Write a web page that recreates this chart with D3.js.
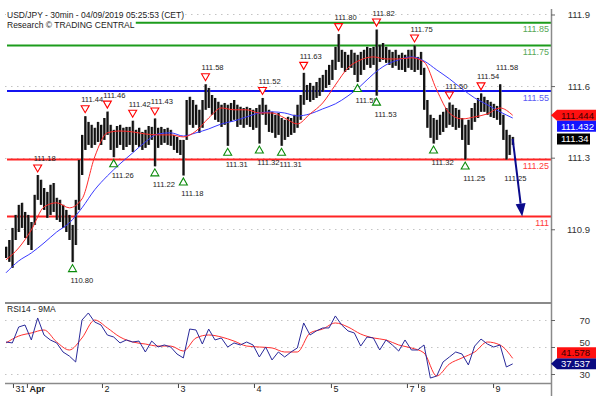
<!DOCTYPE html>
<html><head><meta charset="utf-8">
<script src="https://cdn.jsdelivr.net/npm/d3@7"></script>
<style>body{margin:0;background:#fff}svg{display:block}text{font-family:"Liberation Sans",Arial,sans-serif}</style>
</head><body><svg id="c" width="596" height="399"></svg>
<script>
// ---- data (one entry per 2 half-hour bars) ----
const priceHi = [110.867,110.897,110.950,111.007,111.051,111.060,111.020,111.007,110.976,111.095,
111.182,111.161,111.125,111.108,111.139,111.147,111.082,111.073,111.051,111.029,
111.007,110.963,111.073,111.248,111.358,111.440,111.415,111.402,111.389,111.415,
111.402,111.432,111.460,111.402,111.380,111.397,111.402,111.389,111.393,111.393,
111.420,111.380,111.389,111.371,111.380,111.397,111.393,111.430,111.389,111.393,
111.384,111.389,111.380,111.358,111.349,111.336,111.336,111.511,111.525,111.511,
111.490,111.468,111.511,111.580,111.564,111.533,111.520,111.503,111.490,111.498,
111.490,111.498,111.511,111.490,111.481,111.476,111.481,111.476,111.468,111.476,
111.490,111.520,111.490,111.468,111.459,111.446,111.454,111.432,111.424,111.437,
111.432,111.446,111.490,111.533,111.630,111.577,111.586,111.573,111.590,111.608,
111.621,111.643,111.665,111.687,111.744,111.800,111.731,111.722,111.709,111.731,
111.718,111.709,111.722,111.731,111.744,111.739,111.744,111.820,111.753,111.761,
111.744,111.731,111.722,111.731,111.709,111.718,111.709,111.731,111.731,111.750,
111.700,111.722,111.652,111.511,111.446,111.432,111.424,111.446,111.459,111.476,
111.500,111.490,111.476,111.468,111.432,111.402,111.424,111.476,111.498,111.520,
111.540,111.525,111.511,111.503,111.494,111.485,111.580,111.446,111.380,111.358,
111.349];
const priceLo = [110.818,110.801,110.775,110.897,110.932,110.950,110.906,110.875,110.853,110.963,
111.073,111.051,111.029,110.994,111.007,111.020,110.985,110.976,110.950,110.932,
110.897,110.800,110.875,111.029,111.182,111.292,111.314,111.301,111.314,111.327,
111.314,111.336,111.358,111.292,111.260,111.301,111.314,111.292,111.305,111.314,
111.283,111.314,111.305,111.292,111.301,111.314,111.336,111.220,111.301,111.314,
111.323,111.314,111.310,111.292,111.279,111.270,111.180,111.336,111.402,111.389,
111.402,111.367,111.389,111.468,111.476,111.446,111.424,111.415,111.393,111.402,
111.310,111.415,111.424,111.393,111.402,111.389,111.402,111.393,111.380,111.389,
111.320,111.446,111.402,111.371,111.367,111.345,111.358,111.310,111.336,111.349,
111.358,111.367,111.389,111.424,111.490,111.511,111.503,111.511,111.520,111.529,
111.547,111.564,111.577,111.599,111.643,111.678,111.652,111.634,111.643,111.652,
111.621,111.590,111.621,111.643,111.665,111.652,111.665,111.530,111.678,111.687,
111.674,111.665,111.652,111.661,111.643,111.643,111.634,111.652,111.643,111.634,
111.643,111.621,111.468,111.389,111.345,111.320,111.336,111.358,111.371,111.389,
111.402,111.393,111.380,111.389,111.336,111.250,111.314,111.380,111.415,111.432,
111.459,111.459,111.446,111.437,111.432,111.424,111.402,111.336,111.250,111.270,
111.314];
const maStep = 4;
const redMA = [110.810,110.862,110.941,111.042,111.060,111.038,111.077,111.261,111.367,111.375,
111.371,111.362,111.358,111.358,111.349,111.375,111.432,111.476,111.468,111.468,
111.454,111.454,111.432,111.406,111.450,111.498,111.577,111.652,111.687,111.700,
111.691,111.691,111.696,111.678,111.555,111.454,111.428,111.437,111.450,111.476,111.444];
const blueMA = [110.753,110.805,110.840,110.884,110.932,110.972,111.038,111.117,111.178,111.231,
111.279,111.327,111.362,111.367,111.353,111.367,111.384,111.406,111.419,111.437,
111.454,111.459,111.454,111.441,111.450,111.472,111.494,111.529,111.573,111.625,
111.665,111.687,111.700,111.682,111.643,111.604,111.560,111.520,111.490,111.459,111.432];
const rsiStep = 2;
const rsiValues = [53.7,53.0,64.8,66.3,55.2,71.5,58.9,55.2,53.0,46.3,
43.3,38.9,70.0,75.2,68.5,66.3,58.9,57.4,53.0,55.2,
53.7,54.4,46.3,54.4,50.0,51.5,50.0,44.8,41.9,63.3,
62.6,52.2,63.3,55.2,56.7,50.0,53.0,51.5,53.7,51.5,
42.6,50.0,40.4,46.3,42.6,46.3,49.3,67.8,58.9,61.9,
64.1,64.1,73.0,66.3,61.9,60.4,50.7,57.4,56.7,47.8,
55.2,51.5,47.0,55.2,47.8,47.8,51.5,27.0,28.5,38.9,
42.6,46.3,44.8,36.7,50.7,55.9,52.2,50.0,51.5,35.2,37.5];
const rsiMA = [53.0,58.1,60.4,62.6,53.7,47.8,56.7,70.0,64.1,57.4,
53.7,52.2,50.7,50.7,47.0,56.7,58.9,57.4,54.4,50.7,
50.0,49.3,46.3,46.3,60.4,63.3,67.8,64.8,59.6,56.7,
55.2,51.5,49.3,45.6,28.5,37.4,41.9,46.3,53.7,51.5,41.6];

const levelValues = [111.85, 111.75, 111.55, 111.25, 111.00];
const levelLabels = ["111.85","111.75","111.55","111.25","111"];
const levelKinds = ["g","g","b","r","r"];
const priceTicks = [111.886, 111.572, 111.258, 110.944];
const rsiTicks = [70, 50, 30];
const dayTickPos = [2.2, 6.6, 30.3, 54.3, 78.3, 102.6, 126.6, 130.1, 153.8];
const dayTickLabels = ["31","Apr","2","3","4","5","7","8","9"];

const highIdx = [10,25,32,40,47,63,81,94,105,117,129,140,150,156];
const highVal = [111.18,111.44,111.46,111.42,111.43,111.58,111.52,111.63,111.80,111.82,111.75,111.50,111.54,111.58];
const highTri = [1,1,1,1,1,1,1,1,1,1,1,1,1,0];
const lowIdx = [21,34,47,56,70,80,87,111,117,135,145,158];
const lowVal = [110.80,111.26,111.22,111.18,111.31,111.32,111.31,111.59,111.53,111.32,111.25,111.25];
const lowTri = [1,1,1,1,1,1,1,1,1,1,1,0];

const lastPrice = 111.34, lastRed = 111.444, lastBlue = 111.432;
const lastRsi = 37.537, lastRsiMA = 41.578;
const targetIdx = 163, targetPrice = 111.00;
const title1 = "USD/JPY - 30min - 04/09/2019 05:25:53 (CET)";
const title2 = "Research \u00A9 TRADING CENTRAL";
const rsiTitle = "RSI14 - 9MA";

// ---- scales ----
const svg = d3.select("#c");
const x = d3.scaleLinear().domain([0, 160]).range([6, 512.7]);
const y = d3.scaleLinear().domain([111.85, 111.0]).range([22.7, 216.5]);
const r = d3.scaleLinear().domain([70, 30]).range([320, 374]);
const L = 5, R = 551;
const colors = {g:"#1c9c1c", b:"#1414f0", r:"#ff2424"};
const textColors = {g:"#58a858", b:"#5c5cf4", r:"#ff3a3a"};

svg.append("clipPath").attr("id","mainClip").append("rect").attr("x",L).attr("y",8).attr("width",R-L).attr("height",293);
svg.append("clipPath").attr("id","rsiClip").append("rect").attr("x",L).attr("y",304).attr("width",R-L).attr("height",78);

// gridlines
const grid = svg.append("g").attr("stroke","#c4c4c4").attr("stroke-dasharray","1.5,4.5").attr("stroke-width",1);
priceTicks.forEach(t => grid.append("line").attr("x1",L).attr("x2",R).attr("y1",Math.round(y(t))+0.5).attr("y2",Math.round(y(t))+0.5));
rsiTicks.forEach(t => grid.append("line").attr("x1",L).attr("x2",R).attr("y1",Math.round(r(t))+0.5).attr("y2",Math.round(r(t))+0.5));

// level lines
const main = svg.append("g").attr("clip-path","url(#mainClip)");
levelValues.forEach((v,i) => {
  main.append("line").attr("x1",7).attr("x2",R).attr("y1",y(v)).attr("y2",y(v))
    .attr("stroke",colors[levelKinds[i]]).attr("stroke-width",2);
});

// title (white background hides lines behind it)
const tg = svg.append("g");
[[title1,17.5],[title2,28]].forEach(([t,yy]) => {
  const tx = tg.append("text").attr("x",7).attr("y",yy).attr("font-size","8.5px").attr("fill","#222").text(t);
  const bb = tx.node().getBBox();
  tg.insert("rect","text").attr("x",bb.x-1).attr("y",bb.y).attr("width",bb.width+2).attr("height",bb.height).attr("fill","#fff");
});

// price bars: thin grey wick plus dark body
const bars = main.append("g");
bars.selectAll("line.w").data(priceHi).join("line").attr("class","w")
  .attr("x1",(d,i)=>x(i)+0.9).attr("x2",(d,i)=>x(i)+0.9)
  .attr("y1",d=>y(d)).attr("y2",(d,i)=>y(priceLo[i]))
  .attr("stroke","#777").attr("stroke-width",1.4);
bars.selectAll("line.b").data(priceHi).join("line").attr("class","b")
  .attr("x1",(d,i)=>x(i)).attr("x2",(d,i)=>x(i))
  .attr("y1",d=>y(d)).attr("y2",(d,i)=>y(priceLo[i]))
  .attr("stroke","#111").attr("stroke-width",2);

// moving averages
const maLine = d3.line().x((d,i)=>x(i*maStep)).y(d=>y(d)).curve(d3.curveMonotoneX);
main.append("path").attr("d",maLine(blueMA)).attr("fill","none").attr("stroke","#3a3aff").attr("stroke-width",1);
main.append("path").attr("d",maLine(redMA)).attr("fill","none").attr("stroke","#ff2a2a").attr("stroke-width",1);

// level labels
levelValues.forEach((v,i) => {
  svg.append("text").attr("x",549).attr("y",y(v)+9.5).attr("text-anchor","end")
    .attr("font-size","9px").attr("fill",textColors[levelKinds[i]]).text(levelLabels[i]);
});

// markers
const mk = svg.append("g");
highIdx.forEach((idx,i) => {
  const cx = x(idx), cy = y(highVal[i]) - 7;
  if (highTri[i]) mk.append("path").attr("d",`M${cx-4},${cy-3.5}L${cx+4},${cy-3.5}L${cx},${cy+3.5}Z`)
    .attr("fill","#fff").attr("stroke","#f00").attr("stroke-width",1.1);
  mk.append("text").attr("x",cx-4).attr("y",cy-7).attr("font-size","7.6px").attr("fill","#222").text(d3.format(".2f")(highVal[i]));
});
lowIdx.forEach((idx,i) => {
  const cx = x(idx), cy = y(lowVal[i]) + 6;
  if (lowTri[i]) mk.append("path").attr("d",`M${cx-4},${cy+3.5}L${cx+4},${cy+3.5}L${cx},${cy-3.5}Z`)
    .attr("fill","#fff").attr("stroke","#0a8a0a").attr("stroke-width",1.1);
  mk.append("text").attr("x",cx-2).attr("y",cy+15).attr("font-size","7.6px").attr("fill","#222").text(d3.format(".2f")(lowVal[i]));
});

// forecast arrow
{
  const x0 = x(160), y0 = y(lastPrice), x1 = x(targetIdx), y1 = y(targetPrice);
  const ang = Math.atan2(y1-y0, x1-x0), hl = 13, hw = 5;
  const bx = x1 - hl*Math.cos(ang), by = y1 - hl*Math.sin(ang);
  svg.append("line").attr("x1",x0).attr("y1",y0).attr("x2",bx).attr("y2",by).attr("stroke","#0a0a8c").attr("stroke-width",2);
  const px = -Math.sin(ang)*hw, py = Math.cos(ang)*hw;
  svg.append("path").attr("d",`M${x1},${y1}L${bx+px},${by+py}L${bx-px},${by-py}Z`).attr("fill","#0a0a8c");
}

// RSI panel
svg.append("text").attr("x",7).attr("y",312).attr("font-size","8.5px").attr("fill","#222").text(rsiTitle);
const rsiG = svg.append("g").attr("clip-path","url(#rsiClip)");
rsiG.append("path").attr("d",d3.line().x((d,i)=>x(i*maStep)).y(d=>r(d)).curve(d3.curveMonotoneX)(rsiMA))
  .attr("fill","none").attr("stroke","#ff3030").attr("stroke-width",1);
rsiG.append("path").attr("d",d3.line().x((d,i)=>x(i*rsiStep)).y(d=>r(d))(rsiValues))
  .attr("fill","none").attr("stroke","#2a2a9a").attr("stroke-width",1);

// panel frame lines
svg.append("line").attr("x1",L).attr("x2",R).attr("y1",303).attr("y2",303).attr("stroke","#8a8a8a").attr("stroke-width",2);
svg.append("line").attr("x1",L).attr("x2",R).attr("y1",383.5).attr("y2",383.5).attr("stroke","#8a8a8a").attr("stroke-width",1.5);
svg.append("line").attr("x1",R+0.5).attr("x2",R+0.5).attr("y1",9).attr("y2",396).attr("stroke","#8a8a8a").attr("stroke-width",1.5);

// right axes
const yAxis = svg.append("g").attr("transform",`translate(${R},0)`)
  .call(d3.axisRight(y).tickValues(priceTicks).tickFormat(d3.format(".1f")).tickSize(4));
const rAxis = svg.append("g").attr("transform",`translate(${R},0)`)
  .call(d3.axisRight(r).tickValues(rsiTicks).tickFormat(d3.format("d")).tickSize(4));
[yAxis, rAxis].forEach(a => {
  a.select(".domain").remove();
  a.selectAll(".tick line").attr("stroke","#666");
  a.selectAll(".tick text").attr("x",39).attr("text-anchor","end").attr("font-size","9.5px")
    .attr("fill","#333").attr("font-family","Liberation Sans, Arial, sans-serif");
});
// the "50" label sits mostly behind the RSI average tag, as in the reference
rAxis.selectAll(".tick text").filter(d => d === 50).attr("dy","-0.15em");

// bottom axis
const xAxis = svg.append("g").attr("transform","translate(0,384)")
  .call(d3.axisBottom(x).tickValues(dayTickPos).tickFormat((d,i)=>dayTickLabels[i]).tickSize(4));
xAxis.select(".domain").remove();
xAxis.selectAll(".tick line").attr("stroke","#444");
xAxis.selectAll(".tick text").attr("x",2).attr("y",2).attr("dy","0.71em").attr("text-anchor","start")
  .attr("font-size","9px").attr("fill","#222").attr("font-family","Liberation Sans, Arial, sans-serif")
  .attr("font-weight",(d,i)=>dayTickLabels[i]==="Apr"?"bold":"normal");

// value tags
function tag(yc, text, fill, color, arrow, w) {
  const h = 11, x0 = 557, x1 = x0 + w;
  const d = arrow ? `M${R},${yc}L${x0},${yc-h/2}L${x1},${yc-h/2}L${x1},${yc+h/2}L${x0},${yc+h/2}Z`
                  : `M${x0},${yc-h/2}L${x1},${yc-h/2}L${x1},${yc+h/2}L${x0},${yc+h/2}Z`;
  svg.append("path").attr("d",d).attr("fill",fill);
  svg.append("text").attr("x",561).attr("y",yc+3.4).attr("font-size","9.5px").attr("fill",color).text(text);
}
const yRed = y(lastRed);
tag(yRed, d3.format(".3f")(lastRed), "#ff1010", "#3a0000", true, 42);
tag(Math.max(y(lastBlue), yRed + 11), d3.format(".3f")(lastBlue), "#1414ff", "#fff", false, 42);
tag(y(lastPrice), d3.format(".2f")(lastPrice), "#000", "#fff", false, 33);
const yR = r(lastRsi);
tag(yR, d3.format(".3f")(lastRsi), "#0a0a80", "#fff", true, 42);
tag(Math.min(r(lastRsiMA), yR - 11), d3.format(".3f")(lastRsiMA), "#ff1010", "#3a0000", false, 42);
</script></body></html>
